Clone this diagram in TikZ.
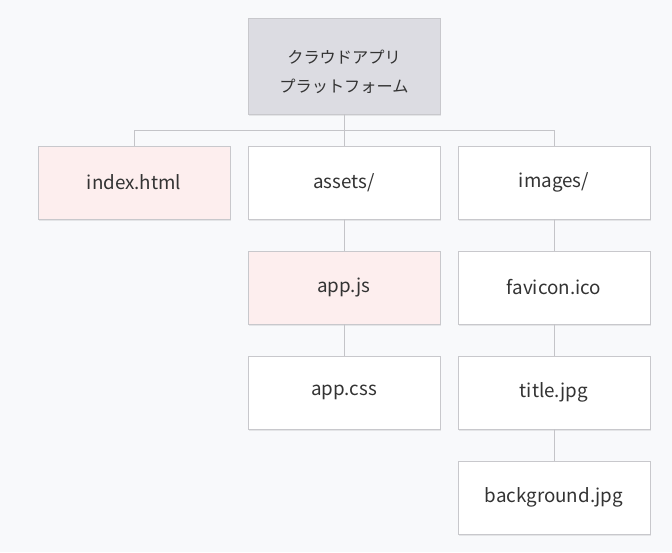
\documentclass[tikz,border=0pt]{standalone}
\usepackage{fontspec}
\setmainfont{Noto Sans CJK JP}
\usetikzlibrary{shadows}
\definecolor{bgc}{HTML}{F8F9FB}
\definecolor{rootfill}{HTML}{DCDCE2}
\definecolor{pinkfill}{HTML}{FDEEEE}
\definecolor{boxline}{HTML}{C8C8CC}
\definecolor{txt}{HTML}{333333}
\definecolor{lnk}{HTML}{C4C4C8}
\begin{document}
\begin{tikzpicture}[x=1pt,y=-1pt,
  box/.style={draw=boxline, line width=0.9pt, fill=white, minimum width=192pt, minimum height=73pt,
    inner sep=0pt, font=\fontsize{18.8pt}{22pt}\selectfont, text=txt,
    drop shadow={shadow xshift=1pt, shadow yshift=-2pt, opacity=0.08, fill=black}},
  pinkbox/.style={box, fill=pinkfill},
  rootbox/.style={box, fill=rootfill, minimum height=96pt},
  roottext/.style={align=center, text=txt, font=\fontsize{16.2pt}{29pt}\selectfont, yshift=-6pt},
  link/.style={draw=lnk, line width=1pt}]
\fill[bgc] (0,0) rectangle (672,552);
\useasboundingbox (0,0) rectangle (672,552);
\node[rootbox, label={[roottext]center:クラウドアプリ\\プラットフォーム}] (root) at (344,66) {};
\node[pinkbox] (idx) at (134,182.5) {index.html};
\node[box] (ast) at (344,182.5) {assets/};
\node[box] (img) at (554,182.5) {images/};
\node[pinkbox] (appjs) at (344,287.5) {app.js};
\node[box] (appcss) at (344,392.5) {app.css};
\node[box] (fav) at (554,287.5) {favicon.ico};
\node[box] (title) at (554,392.5) {title.jpg};
\node[box] (bg) at (554,497.5) {background.jpg};
\coordinate (j) at (344,130);
\path[link] (root.south) -- (j);
\path[link] (j) -| (idx.north);
\path[link] (j) -| (img.north);
\path[link] (j) -- (ast.north);
\path[link] (ast.south) -- (appjs.north);
\path[link] (appjs.south) -- (appcss.north);
\path[link] (img.south) -- (fav.north);
\path[link] (fav.south) -- (title.north);
\path[link] (title.south) -- (bg.north);
\end{tikzpicture}
\end{document}
